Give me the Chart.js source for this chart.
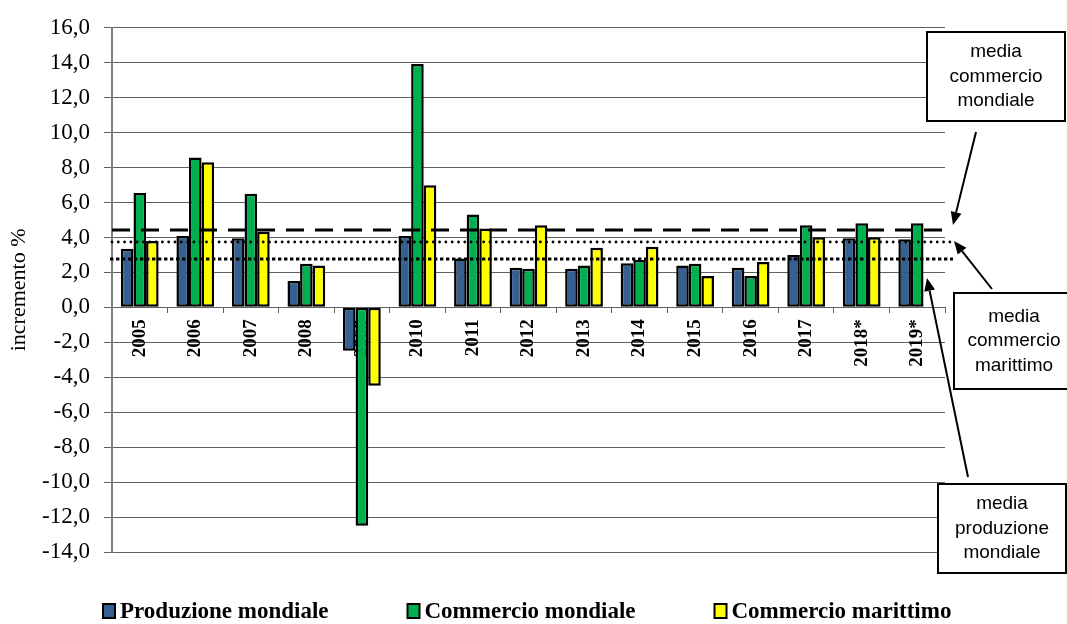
<!DOCTYPE html>
<html>
<head>
<meta charset="utf-8">
<script src="https://cdn.jsdelivr.net/npm/chart.js@4"></script>
<style>
  html, body { margin: 0; padding: 0; background: #fff; }
  #wrap { width: 1067px; height: 624px; position: relative; }
</style>
</head>
<body>
<div id="wrap"><canvas id="myChart"></canvas></div>
<script>
// years on the x axis
const years = ['2005', '2006', '2007', '2008', '2009', '2010', '2011', '2012', '2013', '2014', '2015', '2016', '2017', '2018*', '2019*'];

// growth %
const produzioneMondiale = [3.35, 4.08, 3.95, 1.51, -2.48, 4.08, 2.8, 2.27, 2.21, 2.52, 2.4, 2.27, 3.0, 3.95, 3.9];
const commercioMondiale = [6.55, 8.58, 6.5, 2.5, -12.5, 13.93, 5.32, 2.21, 2.4, 2.71, 2.5, 1.8, 4.7, 4.82, 4.82];
const commercioMarittimo = [3.8, 8.3, 4.33, 2.4, -4.48, 6.99, 4.52, 4.7, 3.41, 3.47, 1.8, 2.6, 4.02, 4.02, null];

// the three average lines
const mediaLabels = ['media commercio mondiale', 'media commercio marittimo', 'media produzione mondiale'];
const mediaValues = [4.4, 3.74, 2.78];

const seriesNames = ['Produzione mondiale', 'Commercio mondiale', 'Commercio marittimo'];
const seriesColors = ['#376092', '#00b050', '#ffff00'];

const yMin = -14;
const yMax = 16;
const yStep = 2;

// dashed / dotted average lines, drawn over the bars
const mediaLinesPlugin = {
    id: 'mediaLines',
    afterDatasetsDraw(chart) {
        const ctx = chart.ctx;
        const yScale = chart.scales.y;
        const area = chart.chartArea;
        const styles = [
            { dash: [18, 11], width: 3.2, cap: 'butt' },
            { dash: [0, 6.3], width: 2.8, cap: 'round' },
            { dash: [3.4, 2.6], width: 3.2, cap: 'butt' }
        ];
        mediaValues.forEach((v, i) => {
            const y = Math.round(yScale.getPixelForValue(v));
            const st = styles[i];
            ctx.save();
            ctx.strokeStyle = '#000';
            ctx.lineWidth = st.width;
            ctx.lineCap = st.cap;
            ctx.setLineDash(st.dash);
            ctx.beginPath();
            ctx.moveTo(area.left - (i === 2 ? 2 : 0), y);
            ctx.lineTo(area.right + 8, y);
            ctx.stroke();
            ctx.restore();
        });
    }
};

// text boxes with arrows on the right
const calloutPlugin = {
    id: 'callouts',
    afterDraw(chart) {
        const ctx = chart.ctx;
        const boxes = [
            { x: 927, y: 32, w: 138, h: 89, cx: 996, lines: ['media', 'commercio', 'mondiale'], from: [976, 132], to: [953, 225] },
            { x: 954, y: 293, w: 125, h: 96, cx: 1014, lines: ['media', 'commercio', 'marittimo'], from: [992, 289], to: [954, 241] },
            { x: 938, y: 484, w: 128, h: 89, cx: 1002, lines: ['media', 'produzione', 'mondiale'], from: [968, 477], to: [927, 278] }
        ];
        ctx.save();
        boxes.forEach(b => {
            ctx.fillStyle = '#fff';
            ctx.fillRect(b.x, b.y, b.w, b.h);
            ctx.strokeStyle = '#000';
            ctx.lineWidth = 2;
            ctx.setLineDash([]);
            ctx.strokeRect(b.x, b.y, b.w, b.h);

            ctx.fillStyle = '#000';
            ctx.font = '19px "Liberation Sans", Arial, sans-serif';
            ctx.textAlign = 'center';
            ctx.textBaseline = 'middle';
            const lh = 24.5;
            const top = b.y + b.h / 2 - lh;
            b.lines.forEach((t, k) => ctx.fillText(t, b.cx, top + k * lh));

            // arrow
            const [x1, y1] = b.from;
            const [x2, y2] = b.to;
            const ang = Math.atan2(y2 - y1, x2 - x1);
            const headLen = 13;
            const headW = 5.5;
            const bx = x2 - headLen * Math.cos(ang);
            const by = y2 - headLen * Math.sin(ang);
            ctx.beginPath();
            ctx.moveTo(x1, y1);
            ctx.lineTo(bx, by);
            ctx.lineWidth = 2;
            ctx.stroke();
            ctx.beginPath();
            ctx.moveTo(x2, y2);
            ctx.lineTo(bx + headW * Math.sin(ang), by - headW * Math.cos(ang));
            ctx.lineTo(bx - headW * Math.sin(ang), by + headW * Math.cos(ang));
            ctx.closePath();
            ctx.fill();
        });
        ctx.restore();
    }
};

// legend drawn by hand so the wide gaps between items fit in one row
const bottomLegendPlugin = {
    id: 'bottomLegend',
    afterDraw(chart) {
        const ctx = chart.ctx;
        const boxW = 12, boxH = 14, textGap = 5, itemGap = 79;
        ctx.save();
        ctx.font = 'bold 23px "Liberation Serif", "Times New Roman", serif';
        let x = 103;
        const yMid = 611;
        chart.data.datasets.forEach(ds => {
            const w = ctx.measureText(ds.label).width;
            ctx.fillStyle = ds.backgroundColor;
            ctx.fillRect(x, yMid - boxH / 2, boxW, boxH);
            ctx.strokeStyle = '#000';
            ctx.lineWidth = 2;
            ctx.strokeRect(x, yMid - boxH / 2, boxW, boxH);
            ctx.fillStyle = '#000';
            ctx.textAlign = 'left';
            ctx.textBaseline = 'middle';
            ctx.fillText(ds.label, x + boxW + textGap, yMid + 1);
            x += boxW + textGap + w + itemGap;
        });
        ctx.restore();
    }
};

const ctx = document.getElementById('myChart').getContext('2d');

const chart = new Chart(ctx, {
    type: 'bar',
    data: {
        labels: years,
        datasets: [produzioneMondiale, commercioMondiale, commercioMarittimo].map((d, i) => ({
            label: seriesNames[i],
            data: d,
            backgroundColor: seriesColors[i],
            borderColor: '#000',
            borderWidth: 2.5,
            borderSkipped: false,
            categoryPercentage: 0.68,
            barPercentage: 1.0
        }))
    },
    options: {
        responsive: true,
        maintainAspectRatio: false,
        animation: false,
        layout: {
            padding: { left: 0, right: 122, top: 25, bottom: 72 }
        },
        plugins: {
            legend: { display: false },
            tooltip: { enabled: false }
        },
        scales: {
            x: {
                position: { y: 0 },
                grid: {
                    offset: true,
                    drawOnChartArea: false,
                    drawTicks: true,
                    tickLength: 6,
                    color: '#606060',
                    lineWidth: 1
                },
                border: { display: false },
                ticks: {
                    minRotation: 90,
                    maxRotation: 90,
                    autoSkip: false,
                    padding: 6,
                    color: '#000',
                    font: { family: '"Liberation Serif", "Times New Roman", serif', size: 19, weight: 'bold' }
                }
            },
            y: {
                min: yMin,
                max: yMax,
                afterFit(scale) { scale.width = 112; },
                grid: {
                    color: '#606060',
                    lineWidth: 1,
                    drawTicks: true,
                    tickLength: 8
                },
                border: { color: '#808080', width: 2 },
                ticks: {
                    stepSize: yStep,
                    padding: 14,
                    color: '#000',
                    font: { family: '"Liberation Serif", "Times New Roman", serif', size: 23 },
                    callback: v => v.toFixed(1).replace('.', ',')
                },
                title: {
                    display: true,
                    text: 'incremento %',
                    color: '#000',
                    padding: { top: 6, bottom: 0 },
                    font: { family: '"Liberation Serif", "Times New Roman", serif', size: 22 }
                }
            }
        }
    },
    plugins: [mediaLinesPlugin, calloutPlugin, bottomLegendPlugin]
});
</script>
</body>
</html>
